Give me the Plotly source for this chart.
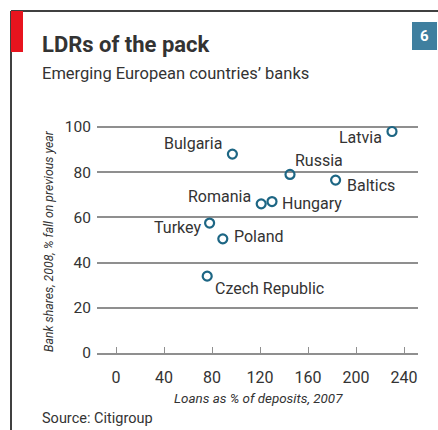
import plotly.graph_objects as go

# Loans-to-deposits ratio (2007) vs fall in bank share prices (2008)
countries = ["Latvia", "Bulgaria", "Russia", "Baltics", "Romania",
             "Hungary", "Turkey", "Poland", "Czech Republic"]
loans_pct_deposits = [230, 97, 145, 183, 121, 130, 78, 89, 76]
share_fall_pct = [98, 88, 79, 76.5, 66, 67, 57.5, 50.5, 34]

# label placement around each marker: (anchor side, dx px, dy px, +dy = down)
label_place = [("right", -8, 6), ("right", -8, -11), ("left", 3, -14),
               ("left", 9, 5), ("right", -8, -7), ("left", 8, 2),
               ("right", -7, 4), ("left", 9, -2), ("left", 6, 12)]

x_ticks = [0, 40, 80, 120, 160, 200, 240]
y_ticks = [0, 20, 40, 60, 80, 100]

TEXT = "#333333"
GRID = "#8f8f8f"
MARK = "#1d6684"
FONT = "Roboto"

W, H = 438, 430
# plot area in pixels
x0_px, x1_px = 97, 418
y_top_px, y_bot_px = 110, 353
px_per_x = 1.2
px_per_y = 2.26
x_range = [-(116 - x0_px) / px_per_x, (x1_px - 116) / px_per_x]
y_range = [0, (y_bot_px - y_top_px) / px_per_y]

fig = go.Figure()

fig.add_trace(go.Scatter(
    x=loans_pct_deposits, y=share_fall_pct,
    mode="markers",
    marker=dict(symbol="circle-open", size=9, color=MARK,
                line=dict(width=2.2, color=MARK)),
    cliponaxis=False,
    hoverinfo="skip",
))

fig.update_layout(
    template="none",
    width=W, height=H, autosize=False,
    margin=dict(l=0, r=0, t=0, b=0, pad=0),
    paper_bgcolor="white", plot_bgcolor="white",
    showlegend=False,
    font=dict(family=FONT, color=TEXT),
    xaxis=dict(
        domain=[x0_px / W, x1_px / W],
        range=x_range,
        tickvals=x_ticks,
        ticktext=[str(v) for v in x_ticks],
        showgrid=False, zeroline=False,
        showline=True, linecolor=GRID, linewidth=1.5,
        ticks="inside", ticklen=6, tickwidth=1.3, tickcolor=GRID,
        ticklabelstandoff=9,
        tickfont=dict(family=FONT, size=16, color=TEXT),
        automargin=False,
        fixedrange=True,
    ),
    yaxis=dict(
        domain=[1 - y_bot_px / H, 1 - y_top_px / H],
        range=y_range,
        tickvals=y_ticks,
        ticktext=[str(v) for v in y_ticks],
        showgrid=True, gridcolor=GRID, gridwidth=1.5,
        zeroline=False, showline=False,
        ticks="", ticklabelstandoff=5,
        tickfont=dict(family=FONT, size=15.5, color=TEXT),
        automargin=False,
        fixedrange=True,
    ),
)

shapes = [
    # frame: left and top rules
    dict(type="line", xref="paper", yref="paper", x0=11 / W, x1=11 / W,
         y0=0, y1=1 - 11 / H, line=dict(color="black", width=1.5)),
    dict(type="line", xref="paper", yref="paper", x0=11 / W, x1=1,
         y0=1 - 11 / H, y1=1 - 11 / H, line=dict(color="black", width=1.5)),
    # red flag
    dict(type="rect", xref="paper", yref="paper", x0=11 / W, x1=23 / W,
         y0=1 - 52 / H, y1=1 - 11 / H, fillcolor="#e8141e", line=dict(width=0)),
    # chart-number badge
    dict(type="rect", xref="paper", yref="paper", x0=412 / W, x1=437 / W,
         y0=1 - 50 / H, y1=1 - 22 / H, fillcolor="#3f7f9f", line=dict(width=0)),
]

annotations = [
    dict(text="<b>LDRs of the pack</b>", x=40 / W, y=1 - 45 / H,
         xref="paper", yref="paper", xanchor="left", yanchor="middle",
         showarrow=False, font=dict(family=FONT, size=22, color=TEXT)),
    dict(text="Emerging European countries\u2019 banks", x=40 / W, y=1 - 73 / H,
         xref="paper", yref="paper", xanchor="left", yanchor="middle",
         showarrow=False, font=dict(family=FONT, size=16.5, color=TEXT)),
    dict(text="<b>6</b>", x=424.5 / W, y=1 - 36 / H,
         xref="paper", yref="paper", xanchor="center", yanchor="middle",
         showarrow=False, font=dict(family=FONT, size=15, color="white")),
    dict(text="<i>Bank shares, 2008, % fall on previous year</i>", x=49 / W,
         y=1 - 241 / H, xref="paper", yref="paper", xanchor="center",
         yanchor="middle", textangle=-90, showarrow=False,
         font=dict(family=FONT, size=12.3, color=TEXT)),
    dict(text="<i>Loans as % of deposits, 2007</i>", x=258 / W, y=1 - 398 / H,
         xref="paper", yref="paper", xanchor="center", yanchor="middle",
         showarrow=False, font=dict(family=FONT, size=13.4, color=TEXT)),
    dict(text="Source: Citigroup", x=40 / W, y=1 - 418 / H,
         xref="paper", yref="paper", xanchor="left", yanchor="middle",
         showarrow=False, font=dict(family=FONT, size=14.5, color=TEXT)),
]

# country labels placed next to their markers
for name, xv, yv, (side, dx, dy) in zip(countries, loans_pct_deposits,
                                        share_fall_pct, label_place):
    annotations.append(dict(
        text=name, x=xv, y=yv, xref="x", yref="y",
        xanchor=side, yanchor="middle", xshift=dx, yshift=-dy,
        showarrow=False, font=dict(family=FONT, size=16, color=TEXT),
    ))

fig.update_layout(shapes=shapes, annotations=annotations)

fig.write_html("out.html")
